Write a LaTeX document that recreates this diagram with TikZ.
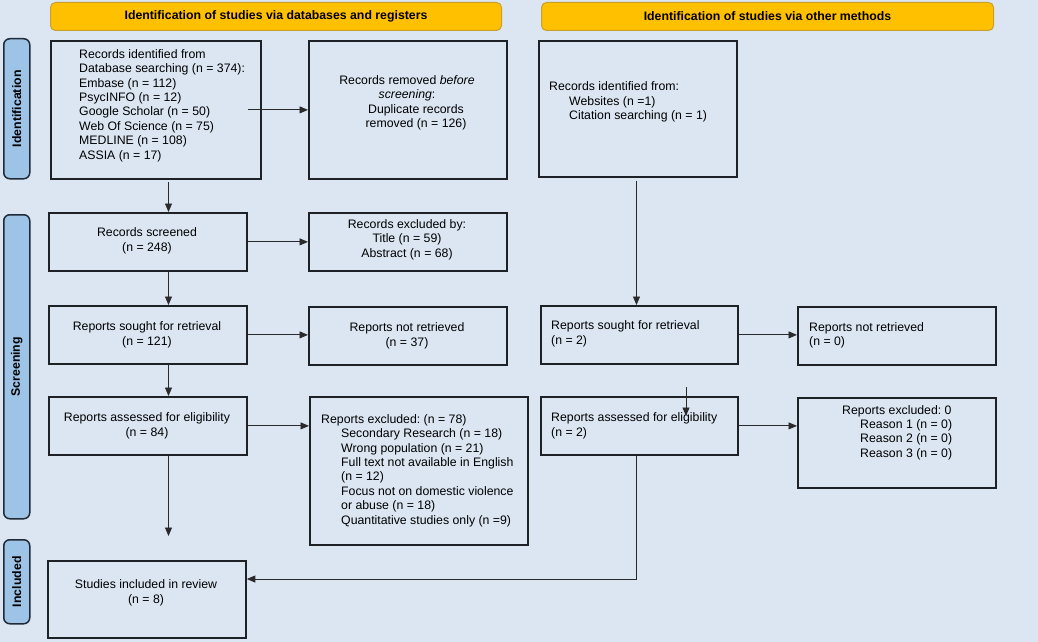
\documentclass[tikz,border=0pt]{standalone}
\usepackage{fontspec}
\setmainfont{Liberation Sans}
\frenchspacing
\usetikzlibrary{arrows.meta}
\definecolor{bg}{HTML}{DCE6F2}
\definecolor{boxline}{HTML}{1E2226}
\definecolor{lineclr}{HTML}{2A2A2A}
\definecolor{hdrfill}{HTML}{FFC000}
\definecolor{hdrline}{HTML}{C9A02A}
\definecolor{sidefill}{HTML}{9DC3E6}
\definecolor{sideline}{HTML}{1F2A36}
\tikzset{
  box/.style={draw=boxline, line width=1.8pt, fill=bg, anchor=north west, inner sep=0pt},
  txt/.style={font=\fontsize{12.3}{14.4}\selectfont, inner sep=0pt, text=black},
  conn/.style={draw=lineclr, line width=0.9pt, -{Triangle[length=8.5pt,width=7pt]}},
  hdr/.style={draw=hdrline, line width=1pt, fill=hdrfill, rounded corners=5pt, anchor=north west, inner sep=0pt},
  hdrtxt/.style={font=\bfseries\fontsize{12.3}{14.4}\selectfont, inner sep=0pt},
  side/.style={draw=sideline, line width=1.5pt, fill=sidefill, rounded corners=6pt, anchor=north west, inner sep=0pt},
  sidetxt/.style={font=\bfseries\fontsize{12.3}{14.4}\selectfont, rotate=90, inner sep=0pt}
}
\begin{document}
\begin{tikzpicture}[x=1pt,y=-1pt]
\useasboundingbox (0,0) rectangle (1038,642);
\fill[bg] (0,0) rectangle (1038,642);

% headers
\node[hdr, minimum width=451pt, minimum height=28pt] (H1) at (50,2) {};
\node[hdrtxt] (H1t) at (H1.center) {Identification of studies via databases and registers};
\node[hdr, minimum width=452pt, minimum height=28pt] (H2) at (541,2) {};
\node[hdrtxt] (H2t) at (H2.center) {Identification of studies via other methods};

% side labels
\node[side, minimum width=26pt, minimum height=140pt] (S1) at (3,38) {};
\node[sidetxt] (S1t) at (S1.center) {Identification};
\node[side, minimum width=26pt, minimum height=304pt] (S2) at (3,214) {};
\node[sidetxt] (S2t) at (S2.center) {Screening};
\node[side, minimum width=26pt, minimum height=84pt] (S3) at (3,539) {};
\node[sidetxt] (S3t) at (S3.center) {Included};

% boxes
\node[box, minimum width=210pt, minimum height=138pt] (A) at (50,40) {};
\node[box, minimum width=198pt, minimum height=138pt] (B) at (308,40) {};
\node[box, minimum width=198pt, minimum height=136pt] (C) at (538,40) {};
\node[box, minimum width=198pt, minimum height=58pt] (D) at (48,212) {};
\node[box, minimum width=198pt, minimum height=58pt] (E) at (308,212) {};
\node[box, minimum width=198pt, minimum height=58pt] (F) at (48,305) {};
\node[box, minimum width=198pt, minimum height=58pt] (G) at (308,306) {};
\node[box, minimum width=198pt, minimum height=58pt] (H) at (48,396) {};
\node[box, minimum width=218pt, minimum height=148pt] (I) at (309,396) {};
\node[box, minimum width=198pt, minimum height=77pt] (J) at (47,560) {};
\node[box, minimum width=197pt, minimum height=58pt] (K1) at (540,305) {};
\node[box, minimum width=197pt, minimum height=58pt] (K2) at (540,396) {};
\node[box, minimum width=198pt, minimum height=58pt] (L) at (797,306) {};
\node[box, minimum width=198pt, minimum height=90pt] (M) at (797,397) {};

% texts
\node[txt, align=left, anchor=west] (At) at (79,105.5) {Records identified from\\Database searching (n = 374):\\Embase (n = 112)\\PsycINFO (n = 12)\\Google Scholar (n = 50)\\Web Of Science (n = 75)\\MEDLINE (n = 108)\\ASSIA (n = 17)};
\node[txt, align=center] (Bt) at (407,103) {Records removed \textit{before}\\\textit{screening}:\\\hspace*{18pt}Duplicate records\\\hspace*{18pt}removed (n = 126)};
\node[txt, align=left, anchor=west] (Ct) at (549,102) {Records identified from:\\\hspace*{20pt}Websites (n =1)\\\hspace*{20pt}Citation searching (n = 1)};
\node[txt, align=center] (Dt) at (147,241) {Records screened\\(n = 248)};
\node[txt, align=center] (Et) at (407,239.5) {Records excluded by:\\Title (n = 59)\\Abstract (n = 68)};
\node[txt, align=center] (Ft) at (147,335) {Reports sought for retrieval\\(n = 121)};
\node[txt, align=center] (Gt) at (407,336) {Reports not retrieved\\(n = 37)};
\node[txt, align=center] (Ht) at (147,426) {Reports assessed for eligibility\\(n = 84)};
\node[txt, align=left, anchor=west] (It) at (321,470.5) {Reports excluded: (n = 78)\\\hspace*{20pt}Secondary Research (n = 18)\\\hspace*{20pt}Wrong population (n = 21)\\\hspace*{20pt}Full text not available in English\\\hspace*{20pt}(n = 12)\\\hspace*{20pt}Focus not on domestic violence\\\hspace*{20pt}or abuse (n = 18)\\\hspace*{20pt}Quantitative studies only (n =9)};
\node[txt, align=center] (Jt) at (146,593) {Studies included in review\\(n = 8)};
\node[txt, align=left, anchor=west] (K1t) at (551,334) {Reports sought for retrieval\\(n = 2)};
\node[txt, align=left, anchor=west] (K2t) at (551,426) {Reports assessed for eligibility\\(n = 2)};
\node[txt, align=left, anchor=west] (Lt) at (809,335.5) {Reports not retrieved\\(n = 0)};
\node[txt, align=left, anchor=west] (Mt) at (842,432.5) {Reports excluded: 0\\\hspace*{18pt}Reason 1 (n = 0)\\\hspace*{18pt}Reason 2 (n = 0)\\\hspace*{18pt}Reason 3 (n = 0)};

% helper coordinates
\coordinate (sp) at (168.5,0);
\coordinate (rsp) at (636.5,0);
\coordinate (jtip) at (168.5,536);
\coordinate (corner) at (636.5,579);
\coordinate (w1) at (686,387);
\coordinate (w2) at (686,416);

% connectors, left column
\draw[conn] (A.east -| D.east) -- (A.east -| B.west);
\draw[conn] ([yshift=-2pt]A.south -| sp) -- (D.north -| sp);
\draw[conn] (D.east) -- (D.east -| E.west);
\draw[conn] (D.south -| sp) -- (F.north -| sp);
\draw[conn] (F.east) -- (F.east -| G.west);
\draw[conn] (F.south -| sp) -- (H.north -| sp);
\draw[conn] (H.east) -- (H.east -| I.west);
\draw[conn] (H.south -| sp) -- (jtip);

% connectors, right column
\draw[conn] ([yshift=-3pt]C.south -| rsp) -- (K1.north -| rsp);
\draw[conn] (K1.east) -- (K1.east -| L.west);
\draw[conn] (K2.east) -- (K2.east -| M.west);
\draw[conn] (w1) -- (w2);
\draw[conn] (K2.south -| corner) -- (corner) -- (corner -| J.east);
\end{tikzpicture}
\end{document}
